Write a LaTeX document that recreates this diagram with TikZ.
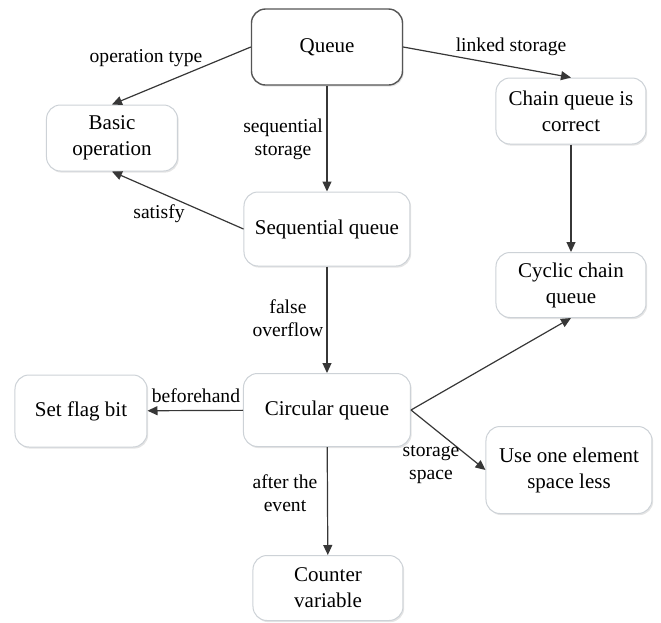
\documentclass[tikz,border=0pt]{standalone}
\usepackage{fontspec}
\setmainfont{Liberation Serif}
\usetikzlibrary{arrows.meta,shadows}
\definecolor{boxgray}{RGB}{205,210,215}
\definecolor{rootgray}{RGB}{85,85,85}
\definecolor{edgegray}{RGB}{55,55,55}

\begin{document}
\begin{tikzpicture}[x=0.5pt, y=-0.5pt,
    box/.style={draw=boxgray, line width=0.5pt, rounded corners=7pt, fill=white,
        align=center, inner sep=0pt, font=\fontsize{10.5}{13}\selectfont,
        drop shadow={shadow xshift=0.6pt, shadow yshift=-0.8pt, fill=black, opacity=0.10}},
    lbl/.style={align=center, inner sep=0pt, font=\fontsize{9.8}{11.5}\selectfont},
    conn/.style={draw=edgegray, line width=0.6pt, -{Triangle[length=5pt,width=4.5pt]}}]

    % Canvas
    \useasboundingbox (0,0) rectangle (661,623);

    % Boxes
    \node[box, draw=rootgray, line width=0.7pt, minimum width=75.5pt, minimum height=38pt] (queue) at (327,47) {Queue};
    \node[box, minimum width=65.5pt, minimum height=33pt] (basic) at (112,138) {Basic\\operation};
    \node[box, minimum width=75pt, minimum height=33pt] (chain) at (571,111) {Chain queue is\\correct};
    \node[box, minimum width=83pt, minimum height=37pt] (seq) at (327,229) {Sequential queue};
    \node[box, minimum width=75pt, minimum height=32.5pt] (cyclic) at (571,285) {Cyclic chain\\queue};
    \node[box, minimum width=83.5pt, minimum height=36.5pt] (circ) at (327,410) {Circular queue};
    \node[box, minimum width=66pt, minimum height=36pt] (flag) at (81,411) {Set flag bit};
    \node[box, minimum width=83pt, minimum height=43.5pt] (spare) at (569,470) {Use one element\\space less};
    \node[box, minimum width=75pt, minimum height=32.5pt] (counter) at (328,588) {Counter\\variable};

    % Connectors
    \draw[conn] (queue.west) -- (basic.north);
    \draw[conn] (queue.east) -- (chain.north);
    \draw[conn] (queue) -- (seq);
    \draw[conn] (seq.west) -- (basic.south);
    \draw[conn] (chain) -- (cyclic);
    \draw[conn] (seq) -- (circ);
    \draw[conn] (circ) -- (flag);
    \draw[conn] (circ.east) -- (cyclic.south);
    \draw[conn] (circ.east) -- (spare.west);
    \draw[conn] (circ) -- (counter);

    % Labels
    \node[lbl] (l-type) at (146,58) {operation type};
    \node[lbl] (l-linked) at (511,47) {linked storage};
    \node[lbl] (l-seq) at (283,139) {sequential\\storage};
    \node[lbl] (l-sat) at (159,214) {satisfy};
    \node[lbl] (l-false) at (288,318) {false\\overflow};
    \node[lbl] (l-before) at (196,396) {beforehand};
    \node[lbl] (l-space) at (431,465) {storage\\space};
    \node[lbl] (l-after) at (285,493) {after the\\event};
\end{tikzpicture}
\end{document}
